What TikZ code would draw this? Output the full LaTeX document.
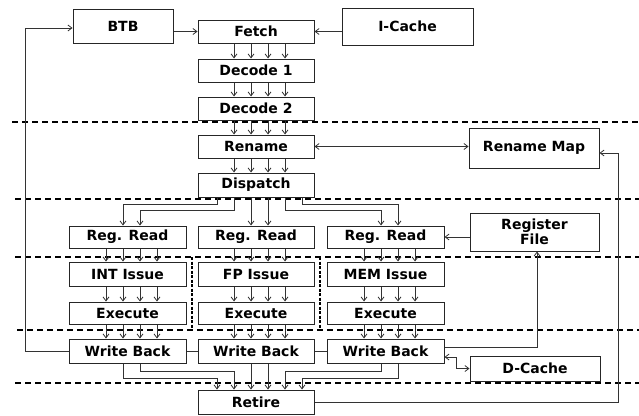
\documentclass[tikz,border=0pt]{standalone}
\usepackage{fontspec}
\setmainfont{DejaVu Sans}
\usetikzlibrary{arrows.meta,calc}
\begin{document}
\begin{tikzpicture}[x=1pt,y=-1pt,
  box/.style={draw=black!85,line width=1pt,inner sep=0pt,fill=white,
    font=\fontsize{14}{13.5}\selectfont\bfseries,align=center},
  arr/.style={draw=black!80,line width=0.8pt,-{Straight Barb[length=4pt,width=6pt]}},
  darr/.style={draw=black!80,line width=0.8pt,{Straight Barb[length=4pt,width=6pt]}-{Straight Barb[length=4pt,width=6pt]}},
  ln/.style={draw=black!80,line width=0.8pt},
  stage/.style={line width=1.4pt,dash pattern=on 6pt off 4pt},
  sep/.style={line width=2pt,dash pattern=on 3pt off 1.5pt}]
\useasboundingbox (0,0) rectangle (639,415);

% stage boundaries
\draw[stage] (12,122) -- (639,122);
\draw[stage] (15,199) -- (639,199);
\draw[stage] (15,257) -- (639,257);
\draw[stage] (17,330) -- (639,330);
\draw[stage] (15,383) -- (639,383);
\draw[sep] (192,257) -- (192,330);
\draw[sep] (320,257) -- (320,330);

% boxes
\node[box,minimum width=100pt,minimum height=34pt] (btb) at (123,26) {BTB};
\node[box,minimum width=116pt,minimum height=23pt] (fetch) at (256,31.5) {Fetch};
\node[box,minimum width=131pt,minimum height=37pt] (icache) at (407.5,26.5) {I-Cache};
\node[box,minimum width=116pt,minimum height=23pt] (dec1) at (256,70.5) {Decode 1};
\node[box,minimum width=116pt,minimum height=23pt] (dec2) at (256,108.5) {Decode 2};
\node[box,minimum width=116pt,minimum height=23pt] (ren) at (256,146.5) {Rename};
\node[box,minimum width=116pt,minimum height=24pt] (disp) at (256,185) {Dispatch};
\node[box,minimum width=130pt,minimum height=40pt] (rmap) at (534,148) {Rename Map};
\node[box,minimum width=129pt,minimum height=38pt] (regf) at (534.5,232) {Register\\File};
\node[box,minimum width=117pt,minimum height=22pt] (rr1) at (127.5,237) {Reg. Read};
\node[box,minimum width=116pt,minimum height=22pt] (rr2) at (256,237) {Reg. Read};
\node[box,minimum width=117pt,minimum height=22pt] (rr3) at (385.5,237) {Reg. Read};
\node[box,minimum width=117pt,minimum height=24pt] (iss1) at (127.5,274) {INT Issue};
\node[box,minimum width=116pt,minimum height=24pt] (iss2) at (256,274) {FP Issue};
\node[box,minimum width=117pt,minimum height=24pt] (iss3) at (385.5,274) {MEM Issue};
\node[box,minimum width=117pt,minimum height=22pt] (ex1) at (127.5,313) {Execute};
\node[box,minimum width=116pt,minimum height=22pt] (ex2) at (256,313) {Execute};
\node[box,minimum width=117pt,minimum height=22pt] (ex3) at (385.5,313) {Execute};
\node[box,minimum width=117pt,minimum height=24pt] (wb1) at (127.5,351) {Write Back};
\node[box,minimum width=116pt,minimum height=24pt] (wb2) at (256,351) {Write Back};
\node[box,minimum width=117pt,minimum height=24pt] (wb3) at (385.5,351) {Write Back};
\node[box,minimum width=116pt,minimum height=24pt] (ret) at (256,402) {Retire};
\node[box,minimum width=130pt,minimum height=25pt] (dc) at (535,368.5) {D-Cache};

% column x positions
\coordinate (s1) at (217,0); \coordinate (s2) at (234,0); \coordinate (s3) at (251,0);
\coordinate (s4) at (268,0); \coordinate (s5) at (285,0); \coordinate (s6) at (302,0);
\coordinate (a1) at (106,0); \coordinate (a2) at (123,0); \coordinate (a3) at (140,0); \coordinate (a4) at (157,0);
\coordinate (b1) at (364,0); \coordinate (b2) at (381,0); \coordinate (b3) at (398,0); \coordinate (b4) at (415,0);

% four-wide buses
\foreach \u/\v in {fetch/dec1,dec1/dec2,dec2/ren,ren/disp,rr2/iss2,iss2/ex2,ex2/wb2}
  \foreach \c in {s2,s3,s4,s5}
    \draw[arr] (\u.south -| \c) -- (\v.north -| \c);
\foreach \u/\v in {rr1/iss1,iss1/ex1,ex1/wb1}
  \foreach \c in {a1,a2,a3,a4}
    \draw[arr] (\u.south -| \c) -- (\v.north -| \c);
\foreach \u/\v in {rr3/iss3,iss3/ex3,ex3/wb3}
  \foreach \c in {b1,b2,b3,b4}
    \draw[arr] (\u.south -| \c) -- (\v.north -| \c);

% dispatch fan-out
\draw[arr] (disp.south -| s1) -- ++(0,7) -| (rr1.north -| a2);
\draw[arr] (disp.south -| s2) -- ++(0,13) -| (rr1.north -| a3);
\draw[arr] (disp.south -| s3) -- (rr2.north -| s3);
\draw[arr] (disp.south -| s4) -- (rr2.north -| s4);
\draw[arr] (disp.south -| s5) -- ++(0,13) -| (rr3.north -| b2);
\draw[arr] (disp.south -| s6) -- ++(0,7) -| (rr3.north -| b3);

% retire fan-in
\draw[arr] (wb1.south -| a2) -- ++(0,15) -| (ret.north -| s1);
\draw[arr] (wb1.south -| a3) -- ++(0,8) -| (ret.north -| s2);
\draw[arr] (wb2.south -| s3) -- (ret.north -| s3);
\draw[arr] (wb2.south -| s4) -- (ret.north -| s4);
\draw[arr] (wb3.south -| b2) -- ++(0,8) -| (ret.north -| s5);
\draw[arr] (wb3.south -| b3) -- ++(0,15) -| (ret.north -| s6);

% other connectors
\coordinate (fb) at (25,28);
\draw[arr] (wb1.west) -| (fb) -- (fb -| btb.west);
\draw[arr] (fetch.west -| btb.east) -- (fetch.west);
\draw[arr] (fetch.east -| icache.west) -- (fetch.east);
\draw[darr] (ren.east) -- (ren.east -| rmap.west);
\coordinate (rt) at (618,153);
\draw[arr] (ret.east) -| (rt) -- (rt -| rmap.east);
\draw[arr] (rr3.east -| regf.west) -- (rr3.east);
\coordinate (rfx) at (537,0);
\draw[arr] ([yshift=4pt]wb3.east) -| (regf.south -| rfx);
\draw[darr] ([yshift=-6pt]wb3.east) -- ++(12,0) |- (dc.west);
\draw[ln] (wb1.east) -- (wb2.west);
\draw[ln] (wb2.east) -- (wb3.west);
\end{tikzpicture}
\end{document}
